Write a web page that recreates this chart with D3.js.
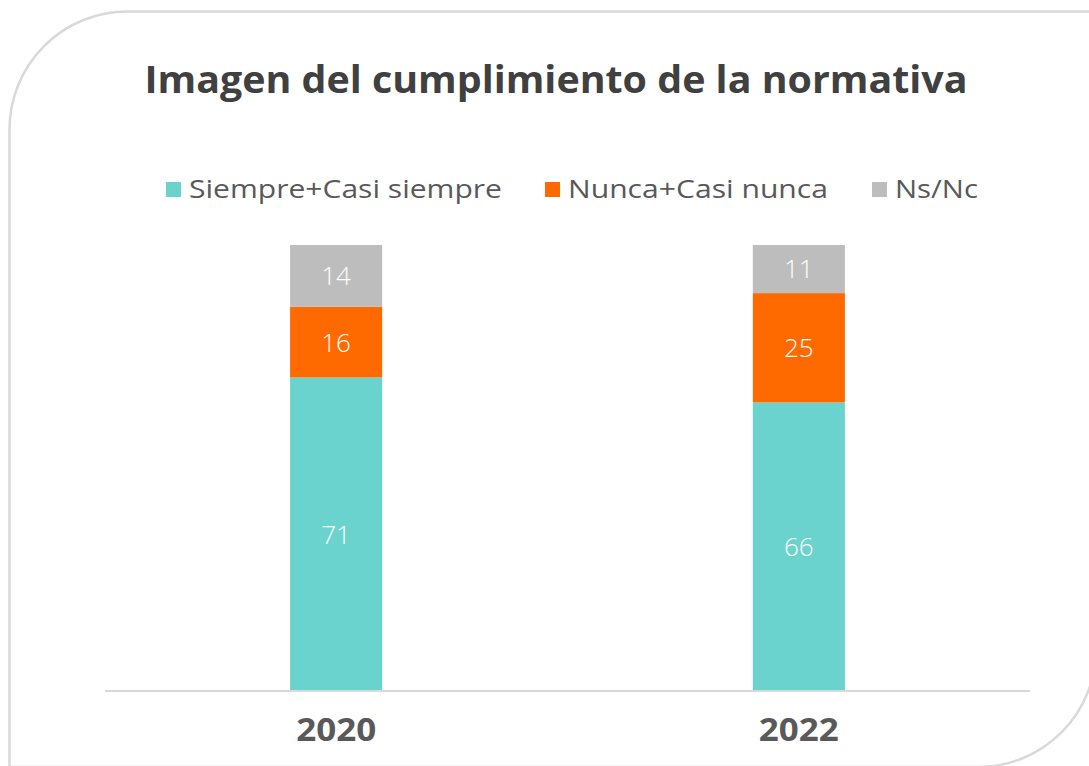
<!DOCTYPE html>
<html>
<head>
<meta charset="utf-8">
<script src="https://cdn.jsdelivr.net/npm/d3@7"></script>
<style>
  html, body { margin: 0; padding: 0; background: #fff; }
  svg { display: block; font-family: "Open Sans", "DejaVu Sans", sans-serif; }
</style>
</head>
<body>
<div id="chart"></div>
<script>
const years = ["2020", "2022"];
const seriesNames = ["Siempre+Casi siempre", "Nunca+Casi nunca", "Ns/Nc"];
const seriesKeys = ["siempre", "nunca", "nsnc"];
const siempre = [71, 66];
const nunca = [16, 25];
const nsnc = [14, 11];
const colors = ["#6bd3cd", "#ff6a00", "#bdbdbd"];

const width = 1089;
const height = 766;
const margin = { top: 245, right: 59, bottom: 75, left: 105 };

const svg = d3.select("#chart")
    .append("svg")
    .attr("width", width)
    .attr("height", height);

// Marco con esquinas diagonales redondeadas
const fx0 = 9.5, fy0 = 11.5, fx1 = 1096, fy1 = 767, r = 118;
const frame = d3.path();
frame.moveTo(fx0, fy0 + r);
frame.arcTo(fx0, fy0, fx0 + r, fy0, r);
frame.lineTo(fx1, fy0);
frame.lineTo(fx1, fy1 - r);
frame.arcTo(fx1, fy1, fx1 - r, fy1, r);
frame.lineTo(fx0, fy1);
frame.closePath();
svg.append("path")
    .attr("d", frame.toString())
    .attr("fill", "none")
    .attr("stroke", "#d9d9d9")
    .attr("stroke-width", 2.5);

const rows = years.map((y, i) => ({ year: y, siempre: siempre[i], nunca: nunca[i], nsnc: nsnc[i] }));

const stacked = d3.stack()
    .keys(seriesKeys)
    .offset(d3.stackOffsetExpand)(rows);

const x = d3.scaleBand()
    .domain(years)
    .range([margin.left, width - margin.right])
    .paddingInner(0.801)
    .paddingOuter(0.4);

const y = d3.scaleLinear()
    .domain([0, 1])
    .range([height - margin.bottom, margin.top]);

// Barras
const layer = svg.selectAll("g.layer")
    .data(stacked)
    .enter()
    .append("g")
    .attr("class", "layer")
    .attr("fill", (d, i) => colors[i]);

layer.selectAll("rect")
    .data(d => d)
    .enter()
    .append("rect")
    .attr("x", d => x(d.data.year))
    .attr("width", x.bandwidth())
    .attr("y", d => y(d[1]))
    .attr("height", d => y(d[0]) - y(d[1]));

// Etiquetas de valores
layer.selectAll("text")
    .data(d => d.map(v => ({ v, key: d.key })))
    .enter()
    .append("text")
    .attr("x", d => x(d.v.data.year) + x.bandwidth() / 2)
    .attr("y", d => (y(d.v[0]) + y(d.v[1])) / 2)
    .attr("dy", "0.36em")
    .attr("text-anchor", "middle")
    .attr("fill", "#fff")
    .style("font-size", "26px")
    .style("font-weight", 300)
    .text(d => d.v.data[d.key]);

// Eje X
const xAxis = svg.append("g")
    .attr("transform", `translate(0,${height - margin.bottom})`)
    .call(d3.axisBottom(x).tickSize(0).tickPadding(27));
xAxis.select(".domain")
    .attr("stroke", "#d9d9d9")
    .attr("stroke-width", 2)
    .attr("d", `M${margin.left},0H${width - margin.right}`);
xAxis.selectAll("text")
    .attr("fill", "#595959")
    .attr("textLength", 80)
    .attr("lengthAdjust", "spacingAndGlyphs")
    .style("font-family", "'Open Sans', sans-serif")
    .style("font-size", "33px")
    .style("font-weight", "bold");

// Título
svg.append("text")
    .attr("x", 556)
    .attr("y", 93)
    .attr("text-anchor", "middle")
    .attr("fill", "#404040")
    .attr("textLength", 823)
    .attr("lengthAdjust", "spacingAndGlyphs")
    .style("font-size", "38px")
    .style("font-weight", "bold")
    .text("Imagen del cumplimiento de la normativa");

// Leyenda
const legendItems = [
    { name: seriesNames[0], color: colors[0], x: 166, w: 313 },
    { name: seriesNames[1], color: colors[1], x: 545, w: 260 },
    { name: seriesNames[2], color: colors[2], x: 872, w: 83 }
];
const legend = svg.selectAll("g.legend")
    .data(legendItems)
    .enter()
    .append("g")
    .attr("class", "legend")
    .attr("transform", d => `translate(${d.x},182)`);
legend.append("rect")
    .attr("width", 15)
    .attr("height", 15)
    .attr("fill", d => d.color);
legend.append("text")
    .attr("x", 23)
    .attr("y", 16)
    .attr("fill", "#595959")
    .attr("textLength", d => d.w)
    .attr("lengthAdjust", "spacingAndGlyphs")
    .style("font-size", "25px")
    .text(d => d.name);
</script>
</body>
</html>
